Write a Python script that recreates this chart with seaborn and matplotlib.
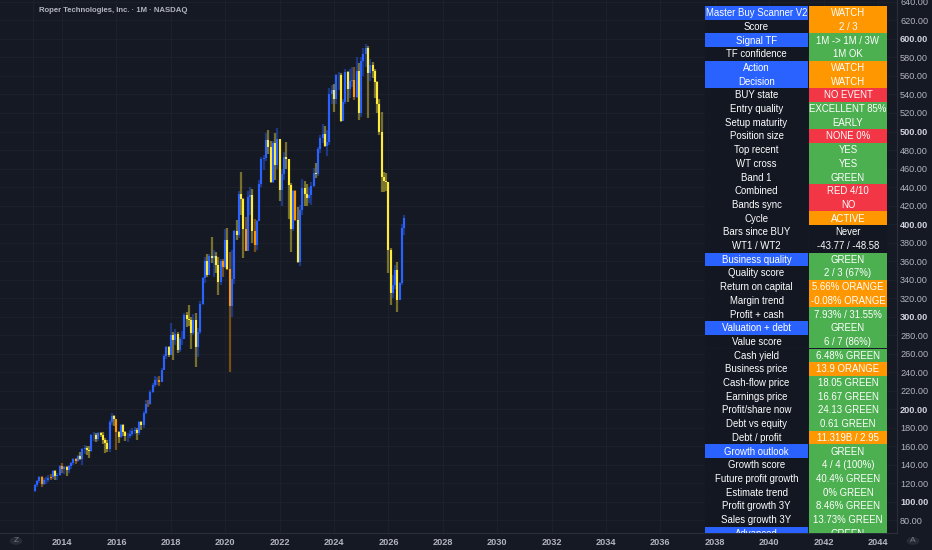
import numpy as np
import pandas as pd
import matplotlib
matplotlib.use("Agg")
import matplotlib.pyplot as plt
import seaborn as sns
from matplotlib.patches import Rectangle, Circle
from matplotlib.lines import Line2D

# monthly candles, Jan 2013 .. Aug 2026 (open = previous close)
first_open = 112
close_2013 = [118, 123, 127, 119, 124, 124, 126, 127, 133, 128, 129, 139]
high_2013 = [119, 124, 128, 128, 126, 127, 129, 130, 134, 134, 131, 140]
low_2013 = [111, 116, 121, 116, 118, 119, 122, 124, 125, 124, 124, 128]
close_2014 = [136, 138, 134, 139, 142, 146, 144, 150, 146, 157, 158, 156]
high_2014 = [142, 139, 139, 140, 143, 147, 148, 151, 154, 158, 161, 160]
low_2014 = [131, 130, 128, 131, 136, 140, 141, 143, 145, 140, 152, 151]
close_2015 = [155, 172, 172, 168, 174, 172, 167, 164, 157, 186, 193, 190]
high_2015 = [160, 173, 176, 175, 176, 176, 176, 169, 167, 188, 196, 194]
low_2015 = [148, 154, 166, 165, 166, 170, 163, 153, 154, 154, 183, 182]
close_2016 = [176, 170, 183, 176, 171, 171, 173, 177, 178, 174, 186, 183]
high_2016 = [189, 177, 184, 184, 177, 175, 178, 180, 181, 180, 187, 187]
low_2016 = [156, 164, 169, 171, 166, 165, 169, 171, 173, 167, 172, 178]
close_2017 = [196, 206, 206, 219, 226, 232, 232, 230, 243, 258, 267, 259]
high_2017 = [198, 210, 210, 221, 228, 236, 235, 236, 245, 260, 268, 268]
low_2017 = [180, 195, 203, 205, 218, 224, 226, 225, 230, 242, 254, 257]
close_2018 = [280, 275, 281, 264, 276, 276, 302, 298, 296, 282, 297, 267]
high_2018 = [293, 284, 287, 284, 278, 285, 304, 305, 313, 300, 303, 304]
low_2018 = [259, 253, 270, 261, 262, 270, 277, 289, 290, 265, 280, 246]
close_2019 = [283, 314, 342, 360, 345, 366, 363, 366, 356, 337, 360, 354]
high_2019 = [288, 317, 343, 364, 368, 368, 386, 372, 370, 365, 362, 362]
low_2019 = [256, 281, 313, 336, 343, 345, 358, 343, 347, 323, 334, 343]
close_2020 = [383, 352, 312, 341, 393, 388, 432, 427, 395, 371, 429, 431]
high_2020 = [395, 396, 370, 372, 394, 404, 436, 456, 428, 408, 436, 440]
low_2020 = [353, 350, 240, 300, 335, 383, 385, 410, 363, 372, 374, 410]
close_2021 = [393, 377, 403, 443, 470, 471, 491, 483, 446, 488, 464, 492]
high_2021 = [438, 405, 404, 448, 472, 475, 498, 502, 490, 490, 498, 504]
low_2021 = [380, 370, 372, 404, 440, 458, 468, 476, 444, 444, 448, 460]
close_2022 = [437, 454, 473, 470, 442, 395, 436, 404, 359, 415, 439, 432]
high_2022 = [492, 460, 478, 489, 470, 444, 437, 437, 418, 421, 449, 447]
low_2022 = [425, 420, 448, 460, 406, 370, 393, 403, 358, 355, 410, 420]
close_2023 = [428, 431, 441, 455, 454, 481, 493, 497, 484, 489, 540, 545]
high_2023 = [443, 440, 445, 461, 466, 483, 496, 508, 506, 502, 547, 550]
low_2023 = [420, 423, 421, 440, 450, 452, 477, 488, 483, 474, 485, 530]
close_2024 = [535, 561, 561, 511, 532, 564, 546, 555, 556, 537, 565, 520]
high_2024 = [551, 562, 564, 563, 535, 567, 565, 567, 570, 570, 580, 574]
low_2024 = [521, 530, 545, 510, 512, 530, 532, 536, 548, 534, 536, 512]
close_2025 = [576, 584, 590, 563, 572, 565, 553, 530, 499, 451, 447, 445]
high_2025 = [580, 590, 594, 592, 578, 575, 568, 555, 535, 521, 456, 455]
low_2025 = [516, 560, 570, 515, 555, 558, 536, 520, 496, 435, 435, 436]
close_2026 = [372, 326, 334, 350, 318, 336, 396, 407]
high_2026 = [445, 374, 345, 356, 359, 338, 400, 410]
low_2026 = [347, 313, 320, 330, 305, 320, 334, 388]
signal_months = [3, 7, 12, 18, 36, 50, 55, 83, 86, 93, 97, 115, 141]

years = list(range(2013, 2027))
closes = sum([globals()[f"close_{y}"] for y in years], [])
highs = sum([globals()[f"high_{y}"] for y in years], [])
lows = sum([globals()[f"low_{y}"] for y in years], [])

df = pd.DataFrame({"close": closes, "high": highs, "low": lows})
df["open"] = [first_open] + closes[:-1]
df["t"] = 2013 + np.arange(len(df)) / 12

# scanner table
row_labels = ["Master Buy Scanner V2", "Score", "Signal TF", "TF confidence", "Action", "Decision",
              "BUY state", "Entry quality", "Setup maturity", "Position size", "Top recent", "WT cross",
              "Band 1", "Combined", "Bands sync", "Cycle", "Bars since BUY", "WT1 / WT2",
              "Business quality", "Quality score", "Return on capital", "Margin trend", "Profit + cash",
              "Valuation + debt", "Value score", "Cash yield", "Business price", "Cash-flow price",
              "Earnings price", "Profit/share now", "Debt vs equity", "Debt / profit", "Growth outlook",
              "Growth score", "Future profit growth", "Estimate trend", "Profit growth 3Y",
              "Sales growth 3Y", "Advanced"]
row_values = ["WATCH", "2 / 3", "1M -> 1M / 3W", "1M OK", "WATCH", "WATCH", "NO EVENT", "EXCELLENT 85%",
              "EARLY", "NONE 0%", "YES", "YES", "GREEN", "RED 4/10", "NO", "ACTIVE", "Never",
              "-43.77 / -48.58", "GREEN", "2 / 3 (67%)", "5.66% ORANGE", "-0.08% ORANGE", "7.93% / 31.55%",
              "GREEN", "6 / 7 (86%)", "6.48% GREEN", "13.9 ORANGE", "18.05 GREEN", "16.67 GREEN",
              "24.13 GREEN", "0.61 GREEN", "11.319B / 2.95", "GREEN", "4 / 4 (100%)", "40.4% GREEN",
              "0% GREEN", "8.46% GREEN", "13.73% GREEN", "GREEN"]
row_states = ["orange", "orange", "green", "green", "orange", "orange", "red", "green", "green", "red",
              "green", "green", "green", "red", "red", "orange", "none", "none", "green", "green",
              "orange", "orange", "green", "green", "green", "green", "orange", "green", "green", "green",
              "green", "orange", "green", "green", "green", "green", "green", "green", "green"]
header_rows = [0, 2, 4, 5, 18, 23, 32, 38]

title = "Roper Technologies, Inc. \u00b7 1M \u00b7 NASDAQ"
y_ticks = list(range(80, 641, 20))
x_ticks = list(range(2014, 2045, 2))

BG = "#151924"
GRID = "#1c212c"
TXT = "#b2b5be"
BLUE, YELLOW, ORANGE = "#2962ff", "#ffeb3b", "#ff9800"
state_colors = {"green": "#4caf50", "orange": "#ff9800", "red": "#f23645", "none": "#131722"}

sns.set_theme(style="dark", rc={"figure.facecolor": BG, "axes.facecolor": BG})
plt.rcParams["font.family"] = ["Liberation Sans", "DejaVu Sans"]

W, H = 932, 550
fig = plt.figure(figsize=(W / 100, H / 100), dpi=100)
ax = fig.add_axes([0, 17 / H, 897 / W, 533 / H])
ax.set_xlim(2011.72, 2044.70)
ax.set_ylim(66.5, 642)

ax.set_yticks(y_ticks)
ax.set_xticks(x_ticks)
ax.grid(True, color=GRID, lw=0.7)
ax.yaxis.tick_right()
ax.set_yticklabels([f"{v:.2f}" for v in y_ticks])
for lab, v in zip(ax.get_yticklabels(), y_ticks):
    if v % 100 == 0:
        lab.set_fontweight("bold")
        lab.set_color("#d1d4dc")
    else:
        lab.set_color(TXT)
ax.set_xticklabels([str(v) for v in x_ticks], fontweight="bold", color=TXT)
ax.tick_params(axis="y", length=0, pad=2.2, labelsize=6.6)
ax.tick_params(axis="x", length=0, pad=3.4, labelsize=6.6)
for s in ["top", "left"]:
    ax.spines[s].set_visible(False)
for s in ["bottom", "right"]:
    ax.spines[s].set_color("#2a2e39")
    ax.spines[s].set_linewidth(0.8)

# candles
cols = []
for i, r in df.iterrows():
    if i in signal_months:
        cols.append(ORANGE)
    elif r["close"] >= r["open"]:
        cols.append(BLUE)
    else:
        cols.append(YELLOW)
ax.vlines(df["t"], df["low"], df["high"], colors=cols, lw=1.6, alpha=0.42, zorder=3)
ax.vlines(df["t"], df[["open", "close"]].min(axis=1), df[["open", "close"]].max(axis=1),
          colors=cols, lw=1.5, zorder=4)

# table drawn in pane pixels (clipped by the pane)
def ax_xy(px, py):
    return px / 897, 1 - py / 533

row_h = 13.7
top = 6
lx0, lx1, vx0, vx1 = 705, 808, 809, 887
for r, (lab, val, st) in enumerate(zip(row_labels, row_values, row_states)):
    y0 = top + r * row_h
    fx, fy = ax_xy(lx0, y0 + row_h)
    lc = BLUE if r in header_rows else "#131722"
    ax.add_patch(Rectangle((fx, fy), (lx1 - lx0) / 897, row_h / 533, transform=ax.transAxes,
                           facecolor=lc, edgecolor="none", zorder=6, clip_on=True))
    fx, fy = ax_xy(vx0, y0 + row_h)
    ax.add_patch(Rectangle((fx, fy), (vx1 - vx0) / 897, row_h / 533, transform=ax.transAxes,
                           facecolor=state_colors[st], edgecolor="none", zorder=6, clip_on=True))
    tx, ty = ax_xy((lx0 + lx1) / 2, y0 + row_h / 2 + 0.3)
    ax.text(tx, ty, lab, transform=ax.transAxes, ha="center", va="center", fontsize=6.9,
            color="white", zorder=7, clip_on=True)
    tx, ty = ax_xy((vx0 + vx1) / 2, y0 + row_h / 2 + 0.3)
    ax.text(tx, ty, val, transform=ax.transAxes, ha="center", va="center", fontsize=6.9,
            color="white", zorder=7, clip_on=True)

fig.text(39 / W, 1 - 10 / H, title, ha="left", va="center", fontsize=5.6,
         fontweight="bold", color=TXT)

# bottom strip buttons and divider
fig.add_artist(Line2D([33 / W, 33 / W], [0, 1], color=GRID, lw=0.8))
for cx, ch in [(16, "Z"), (913, "A")]:
    fig.add_artist(Circle((cx / W, 1 - 541 / H), 6.5 / W, transform=fig.transFigure,
                          facecolor="#262a35", edgecolor="none"))
    fig.text(cx / W, 1 - 541 / H, ch, ha="center", va="center", fontsize=6, color="#787b86")

fig.savefig("out.png", dpi=100, facecolor=BG)
